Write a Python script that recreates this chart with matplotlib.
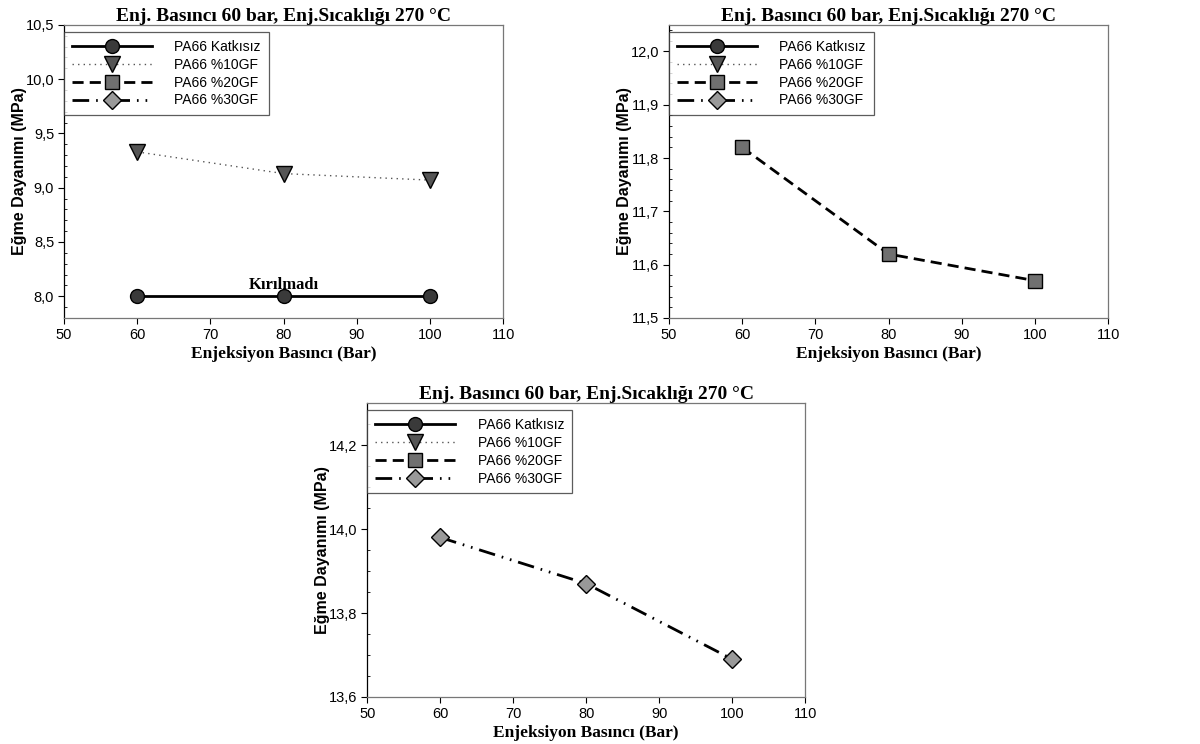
import numpy as np
import matplotlib
matplotlib.use("Agg")
import matplotlib.pyplot as plt
import matplotlib.ticker as mticker

# ── Data ───────────────────────────────────────────────────────
basinc = [60, 80, 100]
series_names = ["PA66 Katkısız", "PA66 %10GF", "PA66 %20GF", "PA66 %30GF"]

# panel 1
katkisiz_p1 = [8.0, 8.0, 8.0]
gf10_p1 = [9.33, 9.13, 9.07]
# panel 2
gf20_p2 = [11.82, 11.62, 11.57]
# panel 3
gf30_p3 = [13.98, 13.87, 13.69]

title = "Enj. Basıncı 60 bar, Enj.Sıcaklığı 270 °C"
xlabel = "Enjeksiyon Basıncı (Bar)"
ylabel = "Eğme Dayanımı (MPa)"
note_p1 = "Kırılmadı"

xticks = [50, 60, 70, 80, 90, 100, 110]

# ── Style ──────────────────────────────────────────────────────
plt.rcParams.update({
    "font.family": ["Liberation Sans", "DejaVu Sans"],
    "font.size": 10,
})
SERIF = ["Liberation Serif", "DejaVu Serif"]

STYLES = [
    dict(color="black", lw=2.0, ls="-", marker="o", mfc="#3a3a3a", mec="black", ms=10),
    dict(color="#555555", lw=1.0, ls=(0, (1, 3)), marker="v", mfc="#555555", mec="black", ms=11),
    dict(color="black", lw=2.0, ls=(0, (4, 2.2)), marker="s", mfc="#707070", mec="black", ms=10),
    dict(color="black", lw=2.0, ls=(0, (6, 2.5, 0.6, 2.5, 0.6, 2.5)), marker="D", mfc="#999999", mec="black", ms=9.5),
]


def fmt_comma(v, pos, nd):
    return f"{v:.{nd}f}".replace(".", ",")


def style_axes(ax, ylim, yticks, minor, nd):
    ax.set_xlim(50, 110)
    ax.set_ylim(*ylim)
    ax.set_xticks(xticks)
    ax.set_yticks(yticks)
    ax.yaxis.set_minor_locator(mticker.MultipleLocator(minor))
    ax.yaxis.set_major_formatter(mticker.FuncFormatter(lambda v, p: fmt_comma(v, p, nd)))
    ax.tick_params(axis="both", which="major", direction="out", length=4, width=0.8, labelsize=10.5, pad=3)
    ax.tick_params(axis="y", which="minor", direction="in", length=2.5, width=0.6)
    for side in ["top", "right", "bottom"]:
        ax.spines[side].set_color("#777777")
        ax.spines[side].set_linewidth(0.9)
    ax.spines["left"].set_color("black")
    ax.spines["left"].set_linewidth(0.9)
    ax.set_title(title, fontsize=14, fontweight="bold", family=SERIF, pad=2)
    ax.set_xlabel(xlabel, fontsize=12.5, fontweight="bold", family=SERIF, labelpad=3)
    ax.set_ylabel(ylabel, fontsize=11.5, fontweight="bold", labelpad=-1)


def legend_handles(ax):
    handles = []
    for name, st in zip(series_names, STYLES):
        h, = ax.plot([], [], label=name, **st)
        handles.append(h)
    leg = ax.legend(handles=handles, loc="upper left", bbox_to_anchor=(0.0, 0.975),
                    handlelength=5.8, handletextpad=1.6, borderpad=0.55,
                    labelspacing=0.28, fontsize=10, frameon=True, fancybox=False,
                    borderaxespad=0)
    leg.get_frame().set_edgecolor("#333333")
    leg.get_frame().set_linewidth(0.9)


fig = plt.figure(figsize=(12, 7.44), dpi=100)
ax1 = fig.add_axes([0.0533, 0.5726, 0.366, 0.394])
ax2 = fig.add_axes([0.5575, 0.5726, 0.366, 0.394])
ax3 = fig.add_axes([0.306, 0.0632, 0.365, 0.395])

# Panel 1
ax1.plot(basinc, katkisiz_p1, **STYLES[0])
ax1.plot(basinc, gf10_p1, **STYLES[1])
ax1.text(80, 8.03, note_p1, ha="center", va="bottom", fontsize=12, fontweight="bold", family=SERIF)
style_axes(ax1, (7.8, 10.5), [8.0, 8.5, 9.0, 9.5, 10.0, 10.5], 0.1, 1)
legend_handles(ax1)

# Panel 2
ax2.plot(basinc, gf20_p2, **STYLES[2])
style_axes(ax2, (11.5, 12.05), [11.5, 11.6, 11.7, 11.8, 11.9, 12.0], 0.02, 1)
legend_handles(ax2)

# Panel 3
ax3.plot(basinc, gf30_p3, **STYLES[3])
style_axes(ax3, (13.6, 14.3), [13.6, 13.8, 14.0, 14.2], 0.05, 1)
legend_handles(ax3)

plt.savefig("out.png", dpi=100, facecolor="white")
plt.close()
